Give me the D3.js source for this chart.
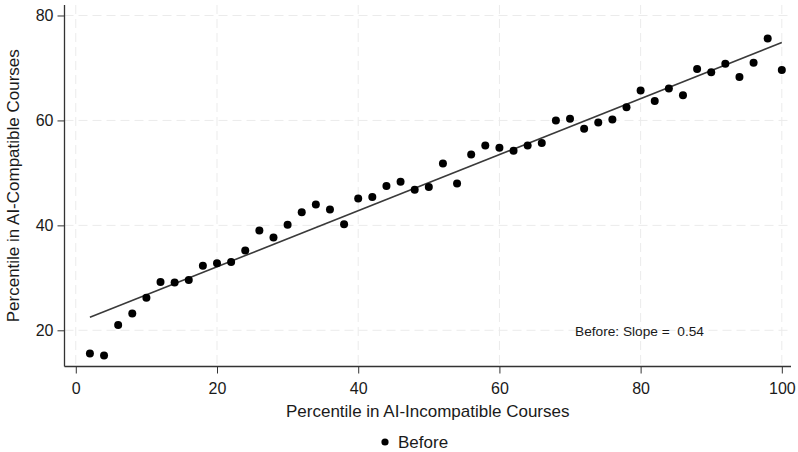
<!DOCTYPE html>
<html>
<head>
<meta charset="utf-8">
<script src="https://cdn.jsdelivr.net/npm/d3@7"></script>
<style>
  body { margin: 0; background: #fff; }
  text { font-family: "Liberation Sans", Arial, sans-serif; fill: #1a1a1a; }
</style>
</head>
<body>
<svg id="chart" width="798" height="452"></svg>
<script>
// binned percentiles, before period
var xs = [2,4,6,8,10,12,14,16,18,20,22,24,26,28,30,32,34,36,38,40,
          42,44,46,48,50,52,54,56,58,60,62,64,66,68,70,72,74,76,78,80,
          82,84,86,88,90,92,94,96,98,100]
var ys = [15.6,15.2,21.0,23.2,26.2,29.2,29.1,29.6,32.3,32.8,
          33.0,35.2,39.0,37.7,40.1,42.5,44.0,43.0,40.2,45.1,
          45.4,47.5,48.3,46.8,47.3,51.8,48.0,53.5,55.2,54.8,
          54.2,55.2,55.7,60.0,60.3,58.4,59.6,60.2,62.5,65.7,
          63.7,66.1,64.8,69.8,69.2,70.8,68.3,71.0,75.6,69.6]
var xTicks = [0,20,40,60,80,100]
var yTicks = [20,40,60,80]
var seriesName = "Before"
var slopeLabel = "Before: Slope =  0.54"

var svg = d3.select("#chart")

var x = d3.scaleLinear().domain([-1.6, 101.3]).range([64.5, 791])
var y = d3.scaleLinear().domain([13.1, 82]).range([366.5, 5])

// grid
svg.append("g").selectAll("line.gx")
  .data(xTicks).enter().append("line")
    .attr("x1", d => x(d)).attr("x2", d => x(d))
    .attr("y1", y(82)).attr("y2", y(13.1))
    .style("stroke", "#ebebeb").style("stroke-dasharray", "9,5")
svg.append("g").selectAll("line.gy")
  .data(yTicks).enter().append("line")
    .attr("y1", d => y(d)).attr("y2", d => y(d))
    .attr("x1", x(-1.6)).attr("x2", x(101.3))
    .style("stroke", "#ebebeb").style("stroke-dasharray", "9,5")

// axes
var xa = svg.append("g").attr("transform", "translate(0," + y(13.1) + ")")
  .call(d3.axisBottom(x).tickValues(xTicks).tickSize(7).tickPadding(9))
var ya = svg.append("g").attr("transform", "translate(" + x(-1.6) + ",0)")
  .call(d3.axisLeft(y).tickValues(yTicks).tickSize(7).tickPadding(4))
svg.selectAll(".domain").attr("d", null)
xa.append("line").attr("x1", x(-1.6)).attr("x2", x(101.3)).style("stroke", "#333").style("stroke-width", 1.3)
ya.append("line").attr("y1", y(13.1)).attr("y2", y(82)).style("stroke", "#333").style("stroke-width", 1.3)
svg.selectAll(".tick line").style("stroke", "#333")
svg.selectAll(".tick text").style("font-size", "16px").style("font-family", "Liberation Sans, Arial, sans-serif").style("fill", "#1a1a1a")

// OLS fit from the points
var mx = d3.mean(xs), my = d3.mean(ys)
var b = d3.sum(xs, (d,i) => (d-mx)*(ys[i]-my)) / d3.sum(xs, d => (d-mx)*(d-mx))
var a = my - b*mx
var ends = [d3.min(xs), d3.max(xs)]
svg.append("line")
  .attr("x1", x(ends[0])).attr("y1", y(a + b*ends[0]))
  .attr("x2", x(ends[1])).attr("y2", y(a + b*ends[1]))
  .style("stroke", "#3a3a3a").style("stroke-width", 1.6)

// points
svg.append("g").selectAll("circle")
  .data(xs).enter().append("circle")
    .attr("cx", d => x(d))
    .attr("cy", (d,i) => y(ys[i]))
    .attr("r", 4)
    .style("fill", "#000")

// slope note
svg.append("text").attr("x", 575).attr("y", 336)
  .style("font-size", "13.7px").style("white-space", "pre").text(slopeLabel)

// titles
svg.append("text").attr("x", (x(-1.6) + x(101.3)) / 2).attr("y", 417)
  .attr("text-anchor", "middle").style("font-size", "17px")
  .text("Percentile in AI-Incompatible Courses")
svg.append("text").attr("transform", "translate(19," + (y(13.1) + y(82)) / 2 + ") rotate(-90)")
  .attr("text-anchor", "middle").style("font-size", "17px")
  .text("Percentile in AI-Compatible Courses")

// legend
var lg = svg.append("g").attr("transform", "translate(385,442)")
lg.append("circle").attr("r", 3.6).style("fill", "#000")
lg.append("text").attr("x", 13).attr("y", 5.5).style("font-size", "17px").text(seriesName)
</script>
</body>
</html>
